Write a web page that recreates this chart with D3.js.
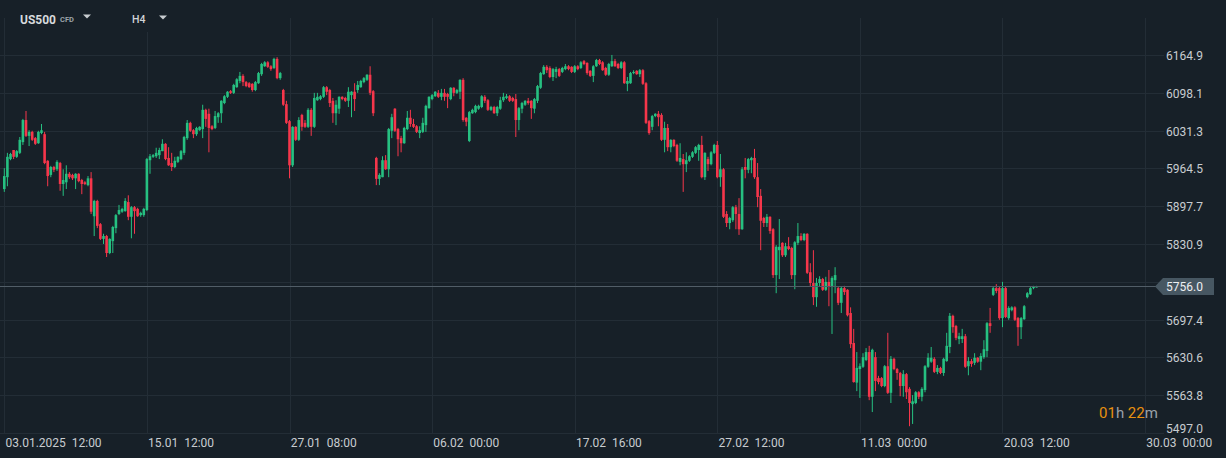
<!DOCTYPE html>
<html><head><meta charset="utf-8">
<script src="https://cdn.jsdelivr.net/npm/d3@7"></script>
<style>
html,body{margin:0;padding:0;background:#172028;overflow:hidden;}
svg{display:block;font-family:Roboto,"Noto Sans",sans-serif;}
text{white-space:pre;}
</style></head><body>
<svg id="c" width="1226" height="458"></svg>
<script>
// ---- data (H4 candles, US500 CFD) ----
const openP = [5928,5949,5981,5997,5985,5992,6011,6050,6022,6029,
6018,6009,6027,6025,5978,5953,5967,5963,5974,5937,
5940,5955,5953,5947,5955,5944,5940,5935,5947,5880,
5907,5866,5840,5845,5815,5836,5859,5884,5888,5889,
5905,5879,5896,5893,5882,5882,5891,5979,5985,5986,
5988,5995,6008,5983,5974,5967,5976,5981,5992,6018,
6045,6032,6025,6032,6034,6068,6061,6039,6036,6055,
6062,6080,6091,6101,6098,6108,6119,6128,6117,6115,
6114,6103,6115,6131,6145,6152,6145,6142,6158,6124,
6103,6078,6048,5970,6038,6015,6059,6045,6038,6068,
6038,6085,6087,6091,6108,6103,6084,6062,6070,6091,
6089,6084,6094,6100,6103,6108,6117,6121,6130,6101,
5983,5946,5949,5979,5963,6031,6070,6034,6018,6009,
6034,6054,6043,6039,6027,6029,6041,6071,6087,6092,
6098,6091,6098,6096,6087,6107,6098,6100,6121,6054,
6013,6062,6064,6070,6073,6091,6085,6068,6073,6062,
6070,6085,6089,6092,6089,6087,6050,6070,6077,6084,
6084,6070,6084,6107,6131,6144,6142,6126,6135,6140,
6135,6140,6145,6144,6135,6145,6142,6154,6151,6137,
6128,6145,6156,6152,6142,6130,6145,6154,6149,6142,
6152,6114,6115,6133,6137,6131,6138,6115,6048,6038,
6057,6061,6059,6015,6036,6002,6015,6006,5976,5981,
5972,5978,5985,5992,5997,6006,5949,5981,5972,5992,
6006,5949,5963,5884,5868,5873,5896,5884,5857,5967,
5962,5979,5983,5949,5916,5877,5868,5879,5857,5776,
5820,5833,5811,5827,5824,5776,5833,5845,5838,5849,
5781,5762,5737,5762,5769,5750,5764,5755,5767,5753,
5727,5753,5750,5709,5656,5586,5610,5614,5626,5640,
5561,5631,5594,5594,5580,5615,5568,5628,5610,5603,
5580,5601,5575,5548,5550,5569,5561,5573,5614,5623,
5628,5605,5612,5603,5624,5649,5704,5686,5663,5663,
5668,5615,5624,5621,5630,5623,5631,5642,5691,5741,
5753,5753,5700,5753,5700,5714,5719,5700,5684,5698,
5737,5742,5753,5755];
const highP = [5965,5992,5992,5997,5997,6020,6052,6066,6032,6031,
6020,6031,6043,6029,5979,5969,5969,5979,5976,5963,
5970,5958,5955,5956,5956,5946,5942,5951,5958,5909,
5909,5868,5849,5847,5841,5863,5884,5900,5895,5912,
5917,5898,5898,5895,5888,5895,5983,5990,5990,6001,
6001,6016,6009,6002,5992,5985,5986,5997,6022,6050,
6047,6034,6038,6039,6077,6070,6070,6041,6066,6064,
6085,6094,6101,6103,6114,6124,6135,6131,6119,6117,
6115,6119,6135,6151,6154,6154,6147,6160,6161,6135,
6105,6084,6050,6039,6039,6055,6061,6050,6071,6071,
6098,6098,6094,6110,6110,6105,6089,6085,6092,6092,
6091,6108,6101,6115,6119,6121,6126,6131,6145,6103,
5985,5956,5986,5988,6036,6061,6071,6036,6022,6038,
6066,6068,6052,6041,6039,6054,6077,6092,6096,6101,
6103,6105,6105,6098,6108,6108,6105,6122,6124,6055,
6066,6070,6077,6077,6094,6094,6087,6075,6075,6075,
6091,6098,6096,6094,6091,6096,6073,6082,6085,6089,
6085,6089,6112,6135,6147,6147,6145,6142,6144,6142,
6144,6149,6147,6145,6147,6147,6154,6156,6152,6138,
6147,6158,6158,6154,6144,6151,6165,6158,6151,6154,
6154,6126,6135,6138,6138,6140,6140,6117,6050,6059,
6062,6066,6062,6047,6043,6016,6016,6008,6009,5990,
5993,5988,5995,6004,6008,6022,5993,5985,5995,6008,
6013,5990,5965,5889,5879,5898,5900,5912,5967,5983,
5983,5985,5999,5974,5928,5879,5884,5880,5859,5829,
5875,5834,5833,5843,5826,5836,5868,5850,5850,5850,
5797,5820,5771,5774,5771,5773,5785,5774,5790,5755,
5755,5757,5751,5719,5681,5640,5620,5638,5647,5651,
5646,5640,5598,5596,5617,5674,5633,5630,5612,5605,
5608,5603,5578,5564,5571,5571,5578,5617,5638,5649,
5631,5617,5614,5630,5674,5709,5706,5688,5674,5681,
5672,5631,5628,5638,5631,5638,5661,5693,5718,5755,
5760,5755,5764,5755,5721,5721,5721,5702,5702,5723,
5746,5755,5757,5757];
const lowP = [5923,5933,5979,5981,5983,5990,6006,6020,6004,6013,
6006,6008,6025,5972,5933,5949,5958,5960,5925,5916,
5928,5946,5944,5928,5940,5919,5935,5933,5884,5845,
5859,5838,5831,5808,5813,5815,5850,5882,5886,5888,
5873,5841,5849,5879,5879,5879,5889,5955,5983,5983,
5981,5995,5979,5969,5960,5965,5974,5979,5988,6015,
6029,6018,6022,6031,6018,6038,5993,6032,6034,6045,
6045,6078,6089,6096,6096,6107,6115,6110,6108,6107,
6100,6101,6114,6128,6144,6142,6137,6140,6122,6121,
6075,6043,5947,5967,6013,6013,6031,6036,6036,6022,
6036,6084,6085,6089,6094,6073,6045,6041,6061,6085,
6082,6073,6055,6066,6098,6107,6115,6119,6094,6057,
5935,5935,5949,5962,5949,6018,6029,5986,5993,6008,
6032,6038,6036,6027,6018,6027,6029,6070,6085,6091,
6089,6085,6084,6071,6085,6092,6096,6087,6047,6039,
6011,6061,6062,6068,6071,6080,6066,6066,6061,6057,
6068,6082,6087,6082,6082,6020,6032,6062,6075,6077,
6052,6062,6080,6105,6130,6133,6124,6119,6124,6126,
6133,6138,6138,6133,6133,6138,6140,6147,6130,6126,
6117,6144,6147,6137,6128,6128,6144,6144,6140,6140,
6114,6101,6114,6131,6130,6126,6112,6043,6024,6032,
6055,6039,6013,5993,5995,5993,6002,5976,5970,5923,
5958,5976,5983,5990,5978,5947,5944,5960,5970,5990,
5947,5932,5877,5861,5857,5870,5857,5847,5856,5947,
5956,5956,5946,5896,5820,5861,5861,5849,5771,5744,
5769,5808,5808,5820,5769,5751,5829,5836,5836,5778,
5755,5723,5720,5755,5748,5748,5721,5672,5744,5723,
5709,5741,5703,5647,5586,5571,5559,5612,5624,5555,
5534,5571,5583,5578,5578,5566,5550,5608,5591,5562,
5561,5557,5509,5513,5548,5557,5553,5569,5612,5621,
5603,5601,5601,5598,5623,5638,5674,5661,5654,5656,
5612,5599,5614,5617,5621,5608,5628,5631,5674,5739,
5744,5697,5684,5700,5697,5712,5695,5651,5663,5697,
5735,5741,5751,5754];
const closeP = [5951,5985,5990,5985,5995,6015,6050,6022,6029,6015,
6008,6029,6032,5974,5951,5967,5962,5976,5937,5944,
5955,5949,5947,5955,5942,5937,5937,5947,5888,5907,
5863,5840,5845,5815,5840,5861,5882,5891,5893,5907,
5879,5896,5889,5880,5886,5893,5981,5986,5988,5992,
5997,6008,5981,5970,5967,5978,5985,5995,6020,6045,
6031,6025,6036,6038,6068,6052,6036,6034,6057,6062,
6084,6092,6100,6098,6112,6122,6128,6117,6110,6108,
6103,6117,6133,6149,6152,6144,6140,6158,6124,6133,
6077,6045,5970,6038,6015,6050,6038,6038,6068,6038,
6089,6091,6092,6108,6100,6080,6062,6077,6091,6087,
6084,6100,6100,6087,6112,6119,6124,6130,6098,6062,
5946,5953,5979,5963,6034,6055,6031,6016,6009,6036,
6054,6043,6038,6029,6032,6045,6075,6091,6094,6100,
6091,6098,6091,6091,6107,6098,6103,6121,6050,6047,
6064,6068,6075,6075,6092,6084,6068,6073,6062,6073,
6085,6091,6092,6084,6084,6050,6071,6080,6084,6080,
6071,6087,6110,6133,6144,6138,6126,6140,6140,6128,
6142,6145,6140,6135,6145,6140,6152,6149,6133,6128,
6145,6156,6149,6138,6130,6149,6154,6145,6142,6152,
6115,6119,6133,6135,6131,6138,6114,6045,6027,6057,
6061,6055,6015,6036,6002,6015,6004,5978,5983,5972,
5979,5986,5993,6002,6006,5949,5992,5972,5993,6006,
5949,5963,5879,5868,5877,5896,5884,5857,5963,5962,
5981,5983,5949,5914,5872,5868,5879,5854,5776,5826,
5826,5811,5827,5822,5776,5834,5845,5838,5849,5780,
5762,5737,5762,5769,5750,5764,5755,5771,5776,5727,
5753,5746,5705,5654,5587,5612,5615,5631,5640,5561,
5644,5589,5587,5580,5615,5568,5628,5610,5603,5580,
5601,5569,5550,5553,5569,5561,5575,5615,5630,5630,
5605,5612,5603,5628,5651,5704,5684,5665,5668,5668,
5614,5624,5619,5630,5623,5633,5645,5691,5686,5753,
5748,5700,5753,5702,5718,5719,5697,5684,5700,5721,
5744,5753,5755,5756];

const xTickIndex  = [0, 46, 92, 138, 184, 230, 276, 322, 368];
const xTickLabels = ["03.01.2025  12:00","15.01  12:00","27.01  08:00","06.02  00:00",
                     "17.02  16:00","27.02  12:00","11.03  00:00","20.03  12:00","30.03  00:00"];
const yTickValues = [6164.9, 6098.1, 6031.3, 5964.5, 5897.7, 5830.9, 5764.1, 5697.4, 5630.6, 5563.8, 5497.0];
const lastPrice = 5756.0;
const symbol = "US500", symbolTag = "CFD", timeframe = "H4";
const countdown = [["01","num"],["h","unit"],[" 22","num"],["m","unit"]];

// ---- drawing ----
const W = 1226, H = 458;
const BG = "#172028", GRID = "#232d36", UP = "#26c081", DOWN = "#f6364b", TXT = "#c8ccd0";
const svg = d3.select("#c");
svg.append("rect").attr("width", W).attr("height", H).attr("fill", BG);

const x = d3.scaleLinear().domain([0, 368]).range([4.3, 4.3 + 368 * 3.1]);
const y = d3.scaleLinear().domain([5497.0, 6164.9]).range([433, 55]);
const plotRight = 1164;

const data = openP.map((o, i) => ({i, o, h: highP[i], l: lowP[i], c: closeP[i]}));

// grid
const g = svg.append("g").attr("shape-rendering", "crispEdges");
g.selectAll("line.h").data(yTickValues).join("line")
  .attr("x1", 0).attr("x2", plotRight)
  .attr("y1", d => Math.round(y(d)) + 0.5).attr("y2", d => Math.round(y(d)) + 0.5)
  .attr("stroke", GRID).attr("stroke-width", 1);
g.selectAll("line.v").data(xTickIndex).join("line")
  .attr("x1", d => Math.round(x(d)) + 0.5).attr("x2", d => Math.round(x(d)) + 0.5)
  .attr("y1", 18).attr("y2", 433)
  .attr("stroke", GRID).attr("stroke-width", 1);

// candles
const cg = svg.append("g");
const cs = cg.selectAll("g.c").data(data).join("g");
cs.append("line")
  .attr("x1", d => x(d.i)).attr("x2", d => x(d.i))
  .attr("y1", d => y(d.h)).attr("y2", d => y(d.l))
  .attr("stroke", d => d.c >= d.o ? UP : DOWN).attr("stroke-width", 1);
cs.append("rect")
  .attr("x", d => x(d.i) - 1.3).attr("width", 2.6)
  .attr("y", d => y(Math.max(d.o, d.c)))
  .attr("height", d => Math.max(1, Math.abs(y(d.o) - y(d.c))))
  .attr("fill", d => d.c >= d.o ? UP : DOWN);

// current price line
svg.append("line").attr("shape-rendering", "crispEdges")
  .attr("x1", 0).attr("x2", 1156)
  .attr("y1", Math.round(y(lastPrice)) + 0.5).attr("y2", Math.round(y(lastPrice)) + 0.5)
  .attr("stroke", "#515d67").attr("stroke-width", 1);

// y axis labels
svg.append("g").selectAll("text").data(yTickValues).join("text")
  .attr("x", 1166)
  .attr("y", d => d === d3.min(yTickValues) ? y(d) - 0.5 : y(d) + 5)
  .attr("fill", TXT).attr("font-size", 12)
  .text(d => d.toFixed(1));

// price tag
const py = y(lastPrice);
svg.append("path")
  .attr("d", `M1155,${py} L1163,${py - 8.5} L1214,${py - 8.5} L1214,${py + 8.5} L1163,${py + 8.5} Z`)
  .attr("fill", "#475762");
svg.append("text").attr("x", 1166).attr("y", py + 4.5)
  .attr("fill", "#eef0f2").attr("font-size", 12).text(lastPrice.toFixed(1));

// x axis labels
svg.append("g").selectAll("text").data(xTickIndex).join("text")
  .attr("x", d => x(d) + 1.2).attr("y", 446.5)
  .attr("fill", TXT).attr("font-size", 12)
  .text((d, k) => xTickLabels[k]);

// countdown
const cd = svg.append("text").attr("x", 1099).attr("y", 418).attr("font-size", 15);
countdown.forEach(([t, k]) => cd.append("tspan").text(t).attr("fill", k === "num" ? "#e8900f" : "#9aa1a8"));

// header
svg.append("rect").attr("x", 118).attr("y", 0).attr("width", 60).attr("height", 32).attr("fill", BG);
svg.append("rect").attr("x", 10).attr("y", 0).attr("width", 90).attr("height", 18).attr("fill", BG);
svg.append("text").attr("x", 20).attr("y", 24).attr("font-size", 12).attr("font-weight", 700)
  .attr("fill", "#d6d9dc").text(symbol);
svg.append("text").attr("x", 60).attr("y", 21.5).attr("font-size", 7.5).attr("font-weight", 700)
  .attr("fill", "#9ca2a8").text(symbolTag);
svg.append("path").attr("d", "M83,14.5 L91,14.5 L87,18.5 Z").attr("fill", "#c8ccd0");
svg.append("text").attr("x", 132).attr("y", 23.3).attr("font-size", 10.5).attr("font-weight", 500)
  .attr("fill", "#d0d3d6").text(timeframe);
svg.append("path").attr("d", "M159,15.5 L167,15.5 L163,19.5 Z").attr("fill", "#c8ccd0");
</script>
</body></html>
